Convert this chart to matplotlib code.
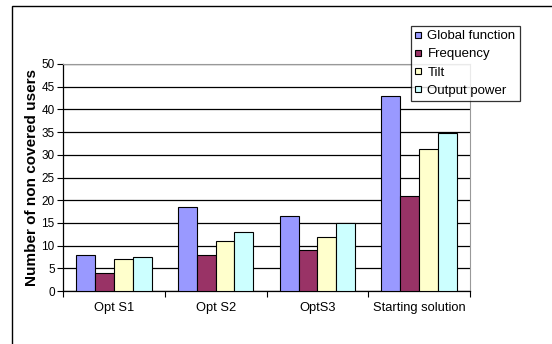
import numpy as np
import matplotlib.pyplot as plt
from matplotlib.patches import Rectangle
from matplotlib.lines import Line2D

plt.rcParams['font.family'] = ['Liberation Sans', 'DejaVu Sans']

# Uncovered users per optimisation scenario
scenarios = ['Opt S1', 'Opt S2', 'OptS3', 'Starting solution']
series_names = ['Global function', 'Frequency', 'Tilt', 'Output power']
global_function = [8, 18.5, 16.6, 43]
frequency = [4, 8, 9, 21]
tilt = [7, 11, 12, 31.2]
output_power = [7.4, 13, 15, 34.7]
colors = ['#9999FF', '#993366', '#FFFFCC', '#CCFFFF']

W, H = 552, 344
fig = plt.figure(figsize=(W / 100, H / 100), dpi=100)
ax = fig.add_axes([63 / W, 1 - 291 / H, (470 - 63) / W, (291 - 64) / H])

# outer chart frame (runs off the right and bottom edges)
fig.patches.append(Rectangle((12 / W, -0.1), 1.2, 1 - 6 / H + 0.1,
                             transform=fig.transFigure, fill=False,
                             edgecolor='black', linewidth=1.0))

x = np.arange(len(scenarios))
width = 0.185
all_series = [global_function, frequency, tilt, output_power]
for i, (vals, name, c) in enumerate(zip(all_series, series_names, colors)):
    ax.bar(x + (i - 1.5) * width, vals, width, color=c, edgecolor='black',
           linewidth=0.8, label=name, zorder=3)

ax.set_xlim(-0.5, len(scenarios) - 0.5)
ax.set_ylim(0, 50)
ax.set_yticks(np.arange(0, 51, 5))
ax.yaxis.grid(True, color='black', linewidth=0.9, zorder=0)
ax.set_axisbelow(True)

ax.set_xticks(x)
ax.set_xticklabels(scenarios, fontsize=9.3)
ax.set_xticks(np.arange(-0.5, len(scenarios)), minor=True)
ax.tick_params(axis='x', which='major', length=0, pad=8)
ax.tick_params(axis='x', which='minor', length=4, width=0.8, direction='out')
ax.tick_params(axis='y', labelsize=8.5, length=4, width=0.8, pad=2)

for side in ['top', 'right']:
    ax.spines[side].set_color('#999999')
    ax.spines[side].set_linewidth(0.8)
for side in ['left', 'bottom']:
    ax.spines[side].set_linewidth(0.9)

ax.set_ylabel('Number of non covered users', fontsize=11, fontweight='bold',
              labelpad=2)

handles = [Line2D([], [], marker='s', linestyle='none', markersize=5,
                  markerfacecolor=c, markeredgecolor='black', markeredgewidth=0.8)
           for c in colors]
leg = fig.legend(handles, series_names, loc='upper left',
                 bbox_to_anchor=(411 / W, 1 - 26 / H), fontsize=9.5,
                 frameon=True, fancybox=False, edgecolor='black',
                 handlelength=0.5, handletextpad=0.45, labelspacing=0.45,
                 borderpad=0.3, borderaxespad=0)
leg.get_frame().set_linewidth(0.9)

fig.savefig('out.png', dpi=100)
